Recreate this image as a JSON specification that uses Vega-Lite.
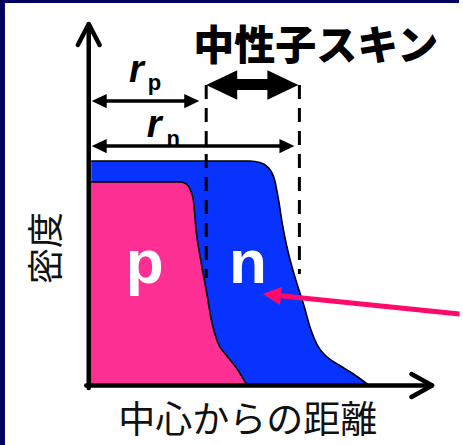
{
  "$schema": "https://vega.github.io/schema/vega-lite/v6.json",
  "width": 463,
  "height": 445,
  "autosize": {"type": "fit", "contains": "padding"},
  "padding": 0,
  "background": "white",
  "config": {"view": {"stroke": null}},
  "data": {"values": [{}]},
  "datasets": {
    "blue": [
      {"x": 2.5, "y": 224.5}, {"x": 110.5, "y": 224.5}, {"x": 162.5, "y": 224.5},
      {"x": 172.5, "y": 223}, {"x": 180.5, "y": 218.5}, {"x": 187.5, "y": 205.5},
      {"x": 191.5, "y": 185.5}, {"x": 195.5, "y": 160.5}, {"x": 199.5, "y": 140.5},
      {"x": 204.5, "y": 120.5}, {"x": 210.5, "y": 100.5}, {"x": 217.5, "y": 78.5},
      {"x": 223.5, "y": 57.5}, {"x": 230.5, "y": 40.5}, {"x": 240.5, "y": 28.5},
      {"x": 252.5, "y": 20.5}, {"x": 265.5, "y": 12.5}, {"x": 275.5, "y": 5.5},
      {"x": 283, "y": 0}
    ],
    "pink": [
      {"x": 2.5, "y": 203.5}, {"x": 92.5, "y": 203.5}, {"x": 98.5, "y": 201.5},
      {"x": 102.5, "y": 195.5}, {"x": 105.5, "y": 185.5}, {"x": 108.5, "y": 153.5},
      {"x": 113.5, "y": 122.5}, {"x": 118.5, "y": 95.5}, {"x": 123.5, "y": 66.5},
      {"x": 129.5, "y": 44.5}, {"x": 139.5, "y": 29.5}, {"x": 150.5, "y": 15.5},
      {"x": 158.5, "y": 2.5}, {"x": 160.5, "y": 0}
    ],
    "poly": [
      {"g": "ya", "o": 0, "x": 0, "y": -2.5}, {"g": "ya", "o": 1, "x": 0, "y": 361},
      {"g": "xa", "o": 0, "x": -2.5, "y": 0}, {"g": "xa", "o": 1, "x": 346, "y": 0},
      {"g": "yc", "o": 0, "x": -11, "y": 340.5}, {"g": "yc", "o": 1, "x": 0, "y": 361.5}, {"g": "yc", "o": 2, "x": 11, "y": 340.5},
      {"g": "xc", "o": 0, "x": 325.5, "y": 11.5}, {"g": "xc", "o": 1, "x": 346.5, "y": 0}, {"g": "xc", "o": 2, "x": 325.5, "y": -11.5}
    ],
    "dashes": [
      {"x": 118.5, "y": 300.5, "y2": 107.5},
      {"x": 212.5, "y": 300.5, "y2": 111.5}
    ],
    "shafts": [
      {"x": 8, "x2": 104, "y": 284.5},
      {"x": 8, "x2": 200, "y": 239.5}
    ],
    "heads": [
      {"dir": "L", "x": 3, "y": 284.5, "k": "s"},
      {"dir": "R", "x": 111.5, "y": 284.5, "k": "s"},
      {"dir": "L", "x": 3, "y": 239.5, "k": "s"},
      {"dir": "R", "x": 207.5, "y": 239.5, "k": "s"},
      {"dir": "L", "x": 118.5, "y": 300.5, "k": "b"},
      {"dir": "R", "x": 211.5, "y": 300.5, "k": "b"}
    ]
  },
  "layer": [
    {
      "mark": {"type": "rect", "color": "#000060"},
      "encoding": {
        "x": {"datum": -89.5, "type": "quantitative", "scale": {"domain": [-89.5, 373.5], "nice": false, "zero": false}, "axis": null},
        "x2": {"datum": -84.5},
        "y": {"datum": -59.5, "type": "quantitative", "scale": {"domain": [-59.5, 385.5], "nice": false, "zero": false}, "axis": null},
        "y2": {"datum": 385.5}
      }
    },
    {
      "mark": {"type": "rect", "color": "#000060"},
      "encoding": {
        "x": {"datum": -89.5, "type": "quantitative"},
        "x2": {"datum": 373.5},
        "y": {"datum": 382.5, "type": "quantitative"},
        "y2": {"datum": 385.5}
      }
    },
    {
      "data": {"name": "blue"},
      "mark": {"type": "area", "color": "#0833ff", "interpolate": "monotone"},
      "encoding": {
        "x": {"field": "x", "type": "quantitative"},
        "y": {"field": "y", "type": "quantitative"},
        "y2": {"datum": 0}
      }
    },
    {
      "data": {"name": "blue"},
      "mark": {"type": "line", "color": "#000000", "strokeWidth": 1.6, "interpolate": "monotone"},
      "encoding": {
        "x": {"field": "x", "type": "quantitative"},
        "y": {"field": "y", "type": "quantitative"}
      }
    },
    {
      "data": {"name": "pink"},
      "mark": {"type": "area", "color": "#fe2f92", "interpolate": "monotone"},
      "encoding": {
        "x": {"field": "x", "type": "quantitative"},
        "y": {"field": "y", "type": "quantitative"},
        "y2": {"datum": 0}
      }
    },
    {
      "data": {"name": "pink"},
      "mark": {"type": "line", "color": "#000000", "strokeWidth": 1.6, "interpolate": "monotone"},
      "encoding": {
        "x": {"field": "x", "type": "quantitative"},
        "y": {"field": "y", "type": "quantitative"}
      }
    },
    {
      "data": {"name": "dashes"},
      "mark": {"type": "rule", "color": "#000000", "strokeWidth": 3, "strokeDash": [14, 9]},
      "encoding": {
        "x": {"field": "x", "type": "quantitative"},
        "y": {"field": "y", "type": "quantitative"},
        "y2": {"field": "y2"}
      }
    },
    {
      "data": {"name": "poly"},
      "mark": {"type": "line", "color": "#000000", "strokeWidth": 4.5, "strokeJoin": "round", "strokeCap": "round"},
      "encoding": {
        "x": {"field": "x", "type": "quantitative"},
        "y": {"field": "y", "type": "quantitative"},
        "detail": {"field": "g"},
        "order": {"field": "o"}
      }
    },
    {
      "data": {"name": "shafts"},
      "mark": {"type": "rule", "color": "#000000", "strokeWidth": 3.5},
      "encoding": {
        "x": {"field": "x", "type": "quantitative"},
        "x2": {"field": "x2"},
        "y": {"field": "y", "type": "quantitative"}
      }
    },
    {
      "mark": {"type": "rule", "color": "#000000", "strokeWidth": 11},
      "encoding": {
        "x": {"datum": 140, "type": "quantitative"},
        "x2": {"datum": 190},
        "y": {"datum": 301, "type": "quantitative"}
      }
    },
    {
      "data": {"name": "heads"},
      "transform": [{"filter": "datum.k == 's'"}],
      "mark": {"type": "point", "filled": true, "opacity": 1, "color": "#000000", "size": 225},
      "encoding": {
        "x": {"field": "x", "type": "quantitative"},
        "y": {"field": "y", "type": "quantitative"},
        "shape": {"field": "dir", "type": "nominal", "scale": {"domain": ["L", "R"], "range": ["M0,0L2,-0.95L2,0.95Z", "M0,0L-2,-0.95L-2,0.95Z"]}, "legend": null}
      }
    },
    {
      "data": {"name": "heads"},
      "transform": [{"filter": "datum.k == 'b'"}],
      "mark": {"type": "point", "filled": true, "opacity": 1, "color": "#000000", "size": 961},
      "encoding": {
        "x": {"field": "x", "type": "quantitative"},
        "y": {"field": "y", "type": "quantitative"},
        "shape": {"field": "dir", "type": "nominal", "legend": null}
      }
    },
    {
      "mark": {"type": "rule", "color": "#ff0a6a", "strokeWidth": 5},
      "encoding": {
        "x": {"datum": 186, "type": "quantitative"},
        "y": {"datum": 90.5, "type": "quantitative"},
        "x2": {"datum": 374},
        "y2": {"datum": 71.5}
      }
    },
    {
      "mark": {"type": "point", "filled": true, "opacity": 1, "color": "#ff0a6a", "size": 340, "shape": "M0,0L2,-1L2,1Z", "angle": 5.8},
      "encoding": {
        "x": {"datum": 175.5, "type": "quantitative"},
        "y": {"datum": 91.5, "type": "quantitative"}
      }
    },
    {
      "mark": {"type": "text", "text": "中性子スキン", "font": "Noto Sans CJK JP", "fontWeight": 900, "fontSize": 41, "align": "center", "baseline": "alphabetic", "color": "#000000"},
      "encoding": {
        "x": {"datum": 229, "type": "quantitative"},
        "y": {"datum": 326, "type": "quantitative"}
      }
    },
    {
      "mark": {"type": "text", "text": "密度", "font": "Noto Sans CJK JP", "fontSize": 36, "align": "center", "baseline": "middle", "angle": 270, "color": "#111111"},
      "encoding": {
        "x": {"datum": -41.5, "type": "quantitative"},
        "y": {"datum": 137.5, "type": "quantitative"}
      }
    },
    {
      "mark": {"type": "text", "text": "中心からの距離", "font": "Noto Sans CJK JP", "fontSize": 37, "align": "center", "baseline": "alphabetic", "color": "#111111"},
      "encoding": {
        "x": {"datum": 160.5, "type": "quantitative"},
        "y": {"datum": -47, "type": "quantitative"}
      }
    },
    {
      "mark": {"type": "text", "text": "r", "font": "Liberation Sans", "fontStyle": "italic", "fontWeight": "bold", "fontSize": 38, "align": "left", "baseline": "alphabetic", "color": "#000000"},
      "encoding": {
        "x": {"datum": 40.5, "type": "quantitative"},
        "y": {"datum": 303.5, "type": "quantitative"}
      }
    },
    {
      "mark": {"type": "text", "text": "r", "font": "Liberation Sans", "fontStyle": "italic", "fontWeight": "bold", "fontSize": 38, "align": "left", "baseline": "alphabetic", "color": "#000000"},
      "encoding": {
        "x": {"datum": 58.5, "type": "quantitative"},
        "y": {"datum": 248.5, "type": "quantitative"}
      }
    },
    {
      "mark": {"type": "text", "text": "p", "font": "Liberation Sans", "fontWeight": "bold", "fontSize": 22, "align": "left", "baseline": "alphabetic", "color": "#000000"},
      "encoding": {
        "x": {"datum": 59.5, "type": "quantitative"},
        "y": {"datum": 295.5, "type": "quantitative"}
      }
    },
    {
      "mark": {"type": "text", "text": "n", "font": "Liberation Sans", "fontWeight": "bold", "fontSize": 22, "align": "left", "baseline": "alphabetic", "color": "#000000"},
      "encoding": {
        "x": {"datum": 78.5, "type": "quantitative"},
        "y": {"datum": 239.5, "type": "quantitative"}
      }
    },
    {
      "mark": {"type": "text", "text": "p", "font": "Liberation Sans", "fontWeight": "bold", "fontSize": 62, "align": "center", "baseline": "alphabetic", "color": "#ffffff"},
      "encoding": {
        "x": {"datum": 56.5, "type": "quantitative"},
        "y": {"datum": 102.5, "type": "quantitative"}
      }
    },
    {
      "mark": {"type": "text", "text": "n", "font": "Liberation Sans", "fontWeight": "bold", "fontSize": 62, "align": "center", "baseline": "alphabetic", "color": "#ffffff"},
      "encoding": {
        "x": {"datum": 160.5, "type": "quantitative"},
        "y": {"datum": 102.5, "type": "quantitative"}
      }
    }
  ]
}
